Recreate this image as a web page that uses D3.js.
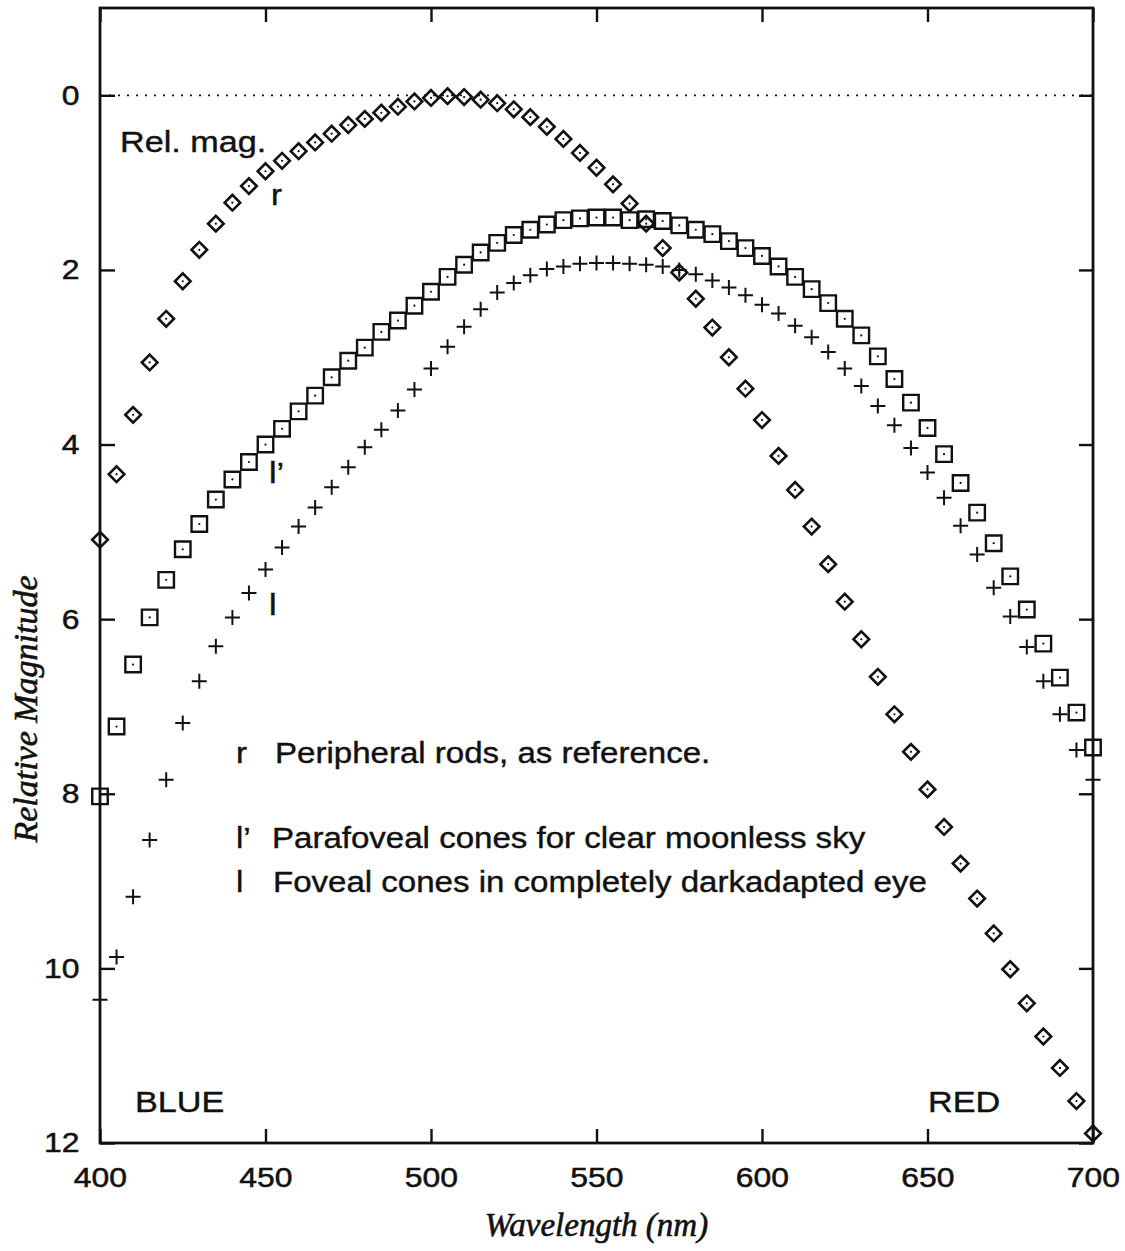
<!DOCTYPE html>
<html>
<head>
<meta charset="utf-8">
<script src="https://cdn.jsdelivr.net/npm/d3@7"></script>
<style>
  html, body { margin: 0; padding: 0; background: #fff; }
  svg { display: block; }
</style>
</head>
<body>
<div id="chart"></div>
<script>
// ---------------- data ----------------
const wavelengths = [400,405,410,415,420,425,430,435,440,445,450,455,460,465,470,475,480,485,490,495,
  500,505,510,515,520,525,530,535,540,545,550,555,560,565,570,575,580,585,590,595,
  600,605,610,615,620,625,630,635,640,645,650,655,660,665,670,675,680,685,690,695,700];

// r : peripheral rods (diamonds)
const rods = [5.09,4.34,3.66,3.06,2.56,2.13,1.77,1.47,1.23,1.04,0.87,0.75,0.64,0.54,0.44,0.34,0.27,0.20,0.13,0.07,
  0.03,0.01,0.02,0.05,0.09,0.16,0.25,0.36,0.50,0.66,0.83,1.02,1.24,1.47,1.75,2.03,2.33,2.66,3.00,3.36,
  3.72,4.13,4.52,4.94,5.37,5.80,6.23,6.66,7.09,7.52,7.95,8.38,8.80,9.20,9.60,10.01,10.40,10.78,11.14,11.52,11.89];

// l' : parafoveal cones (squares)
const parafoveal = [8.03,7.23,6.52,5.98,5.55,5.20,4.91,4.63,4.40,4.20,4.00,3.82,3.62,3.44,3.23,3.04,2.89,2.71,2.58,2.41,
  2.25,2.08,1.94,1.80,1.69,1.60,1.54,1.48,1.43,1.41,1.40,1.40,1.43,1.42,1.44,1.49,1.54,1.59,1.67,1.75,
  1.84,1.96,2.08,2.22,2.38,2.56,2.75,2.99,3.25,3.52,3.81,4.11,4.44,4.78,5.13,5.51,5.89,6.28,6.67,7.07,7.47];

// l : foveal cones (crosses)
const foveal = [10.36,9.87,9.18,8.53,7.84,7.19,6.71,6.31,5.98,5.70,5.43,5.18,4.94,4.72,4.49,4.26,4.03,3.83,3.61,3.37,
  3.13,2.88,2.65,2.45,2.26,2.15,2.06,1.99,1.96,1.93,1.92,1.92,1.93,1.94,1.96,2.00,2.05,2.12,2.20,2.29,
  2.40,2.50,2.64,2.77,2.94,3.13,3.33,3.56,3.78,4.04,4.32,4.61,4.93,5.26,5.64,5.97,6.32,6.71,7.09,7.50,7.84];

const xTicks = [400,450,500,550,600,650,700];
const yTicks = [0,2,4,6,8,10,12];
const legendKeys = ["r", "l\u2019", "l"];
const legendTexts = ["Peripheral rods, as reference.",
  "Parafoveal cones for clear moonless sky",
  "Foveal cones in completely darkadapted eye"];

(function () {
// ---------------- layout ----------------
const W = 1125, H = 1251;
const pL = 100, pR = 1093, pT = 8, pB = 1143;
const SX = 1.14; // horizontal stretch of sans text
const SANS = "'Liberation Sans', Arial, Helvetica, sans-serif";
const SERIF = "'Liberation Serif', 'Times New Roman', serif";
const INK = "#111";

const svg = d3.select("#chart").append("svg")
  .attr("width", W).attr("height", H)
  .attr("viewBox", `0 0 ${W} ${H}`);
svg.append("rect").attr("width", W).attr("height", H).attr("fill", "#fff");

const x = d3.scaleLinear().domain([400, 700]).range([pL, pR]);
const y = d3.scaleLinear().domain([-1, 12]).range([pT, pB]);

// reference line at 0 (dotted)
svg.append("line")
  .attr("x1", pL).attr("x2", pR)
  .attr("y1", y(0)).attr("y2", y(0))
  .attr("stroke", INK).attr("stroke-width", 1.7)
  .attr("stroke-dasharray", "2,7");

// axes
function styleAxis(g, labels) {
  g.select(".domain").remove();
  g.selectAll(".tick line").attr("stroke", INK).attr("stroke-width", 2.4);
  if (!labels) g.selectAll(".tick text").remove();
  else g.selectAll(".tick text")
    .attr("fill", INK)
    .attr("stroke", INK).attr("stroke-width", 0.5)
    .attr("font-family", SANS)
    .attr("font-size", 28)
    .attr("transform", `scale(${SX},1)`);
}

svg.append("g").attr("transform", `translate(${pL},0)`)
  .call(d3.axisLeft(y).tickValues(yTicks).tickSize(-15).tickPadding(18).tickFormat(d3.format("d")))
  .call(g => styleAxis(g, true));

svg.append("g").attr("transform", `translate(${pR},0)`)
  .call(d3.axisRight(y).tickValues(yTicks).tickSize(-14))
  .call(g => styleAxis(g, false));

svg.append("g").attr("transform", `translate(0,${pB})`)
  .call(d3.axisBottom(x).tickValues(xTicks).tickSize(-14).tickPadding(24).tickFormat(d3.format("d")))
  .call(g => styleAxis(g, true));

svg.append("g").attr("transform", `translate(0,${pT})`)
  .call(d3.axisTop(x).tickValues(xTicks).tickSize(-14))
  .call(g => styleAxis(g, false));

// frame
svg.append("rect")
  .attr("x", pL).attr("y", pT)
  .attr("width", pR - pL).attr("height", pB - pT)
  .attr("fill", "none").attr("stroke", INK).attr("stroke-width", 2.8);

// ---------------- markers ----------------
const squarePath = d3.symbol().type(d3.symbolSquare).size(240)();
const diamondPath = d3.symbol().type(d3.symbolSquare).size(122)();
const crossPath = "M-7.5,0H7.5M0,-7.5V7.5";

const series = [
  { values: rods, kind: "diamond" },
  { values: parafoveal, kind: "square" },
  { values: foveal, kind: "cross" }
];

series.forEach(s => {
  const g = svg.append("g");
  const pts = g.selectAll("g.pt").data(wavelengths.map((w, i) => ({ w, v: s.values[i] })))
    .join("g").attr("class", "pt")
    .attr("transform", d => `translate(${x(d.w)},${y(d.v)})`);
  if (s.kind === "diamond") {
    pts.append("path").attr("d", diamondPath).attr("transform", "rotate(45)")
      .attr("fill", "none").attr("stroke", INK).attr("stroke-width", 2.6);
    pts.append("circle").attr("r", 1.1).attr("fill", INK);
  } else if (s.kind === "square") {
    pts.append("path").attr("d", squarePath)
      .attr("fill", "none").attr("stroke", INK).attr("stroke-width", 2.4);
    pts.append("circle").attr("r", 1.1).attr("fill", INK);
  } else {
    pts.append("path").attr("d", crossPath)
      .attr("fill", "none").attr("stroke", INK).attr("stroke-width", 2.0);
  }
});

// ---------------- text ----------------
function label(px, py, txt, size, anchor) {
  svg.append("text")
    .attr("transform", `translate(${px},${py}) scale(${SX},1)`)
    .attr("font-family", SANS).attr("font-size", size)
    .attr("fill", INK)
    .attr("stroke", INK).attr("stroke-width", 0.4)
    .attr("text-anchor", anchor || "start")
    .text(txt);
}

label(120, 152, "Rel. mag.", 30);
label(271, 205, "r", 29);
label(269, 483, "l\u2019", 30);
label(269, 615, "l", 30);

const legendY = [763, 848, 892];
const legendTextX = [275, 272, 273];
legendKeys.forEach((k, i) => {
  label(236, legendY[i], k, 29);
  label(legendTextX[i], legendY[i], legendTexts[i], 29);
});

label(135, 1112, "BLUE", 30);
label(928, 1112, "RED", 30);

// axis titles
svg.append("text")
  .attr("x", (pL + pR) / 2).attr("y", 1236)
  .attr("text-anchor", "middle")
  .attr("font-family", SERIF).attr("font-style", "italic")
  .attr("stroke", INK).attr("stroke-width", 0.6)
  .attr("font-size", 33).attr("fill", INK)
  .text("Wavelength (nm)");

svg.append("text")
  .attr("transform", "translate(37,709) rotate(-90)")
  .attr("text-anchor", "middle")
  .attr("font-family", SERIF).attr("font-style", "italic")
  .attr("stroke", INK).attr("stroke-width", 0.6)
  .attr("font-size", 34).attr("fill", INK)
  .text("Relative Magnitude");
})();
</script>
</body>
</html>
